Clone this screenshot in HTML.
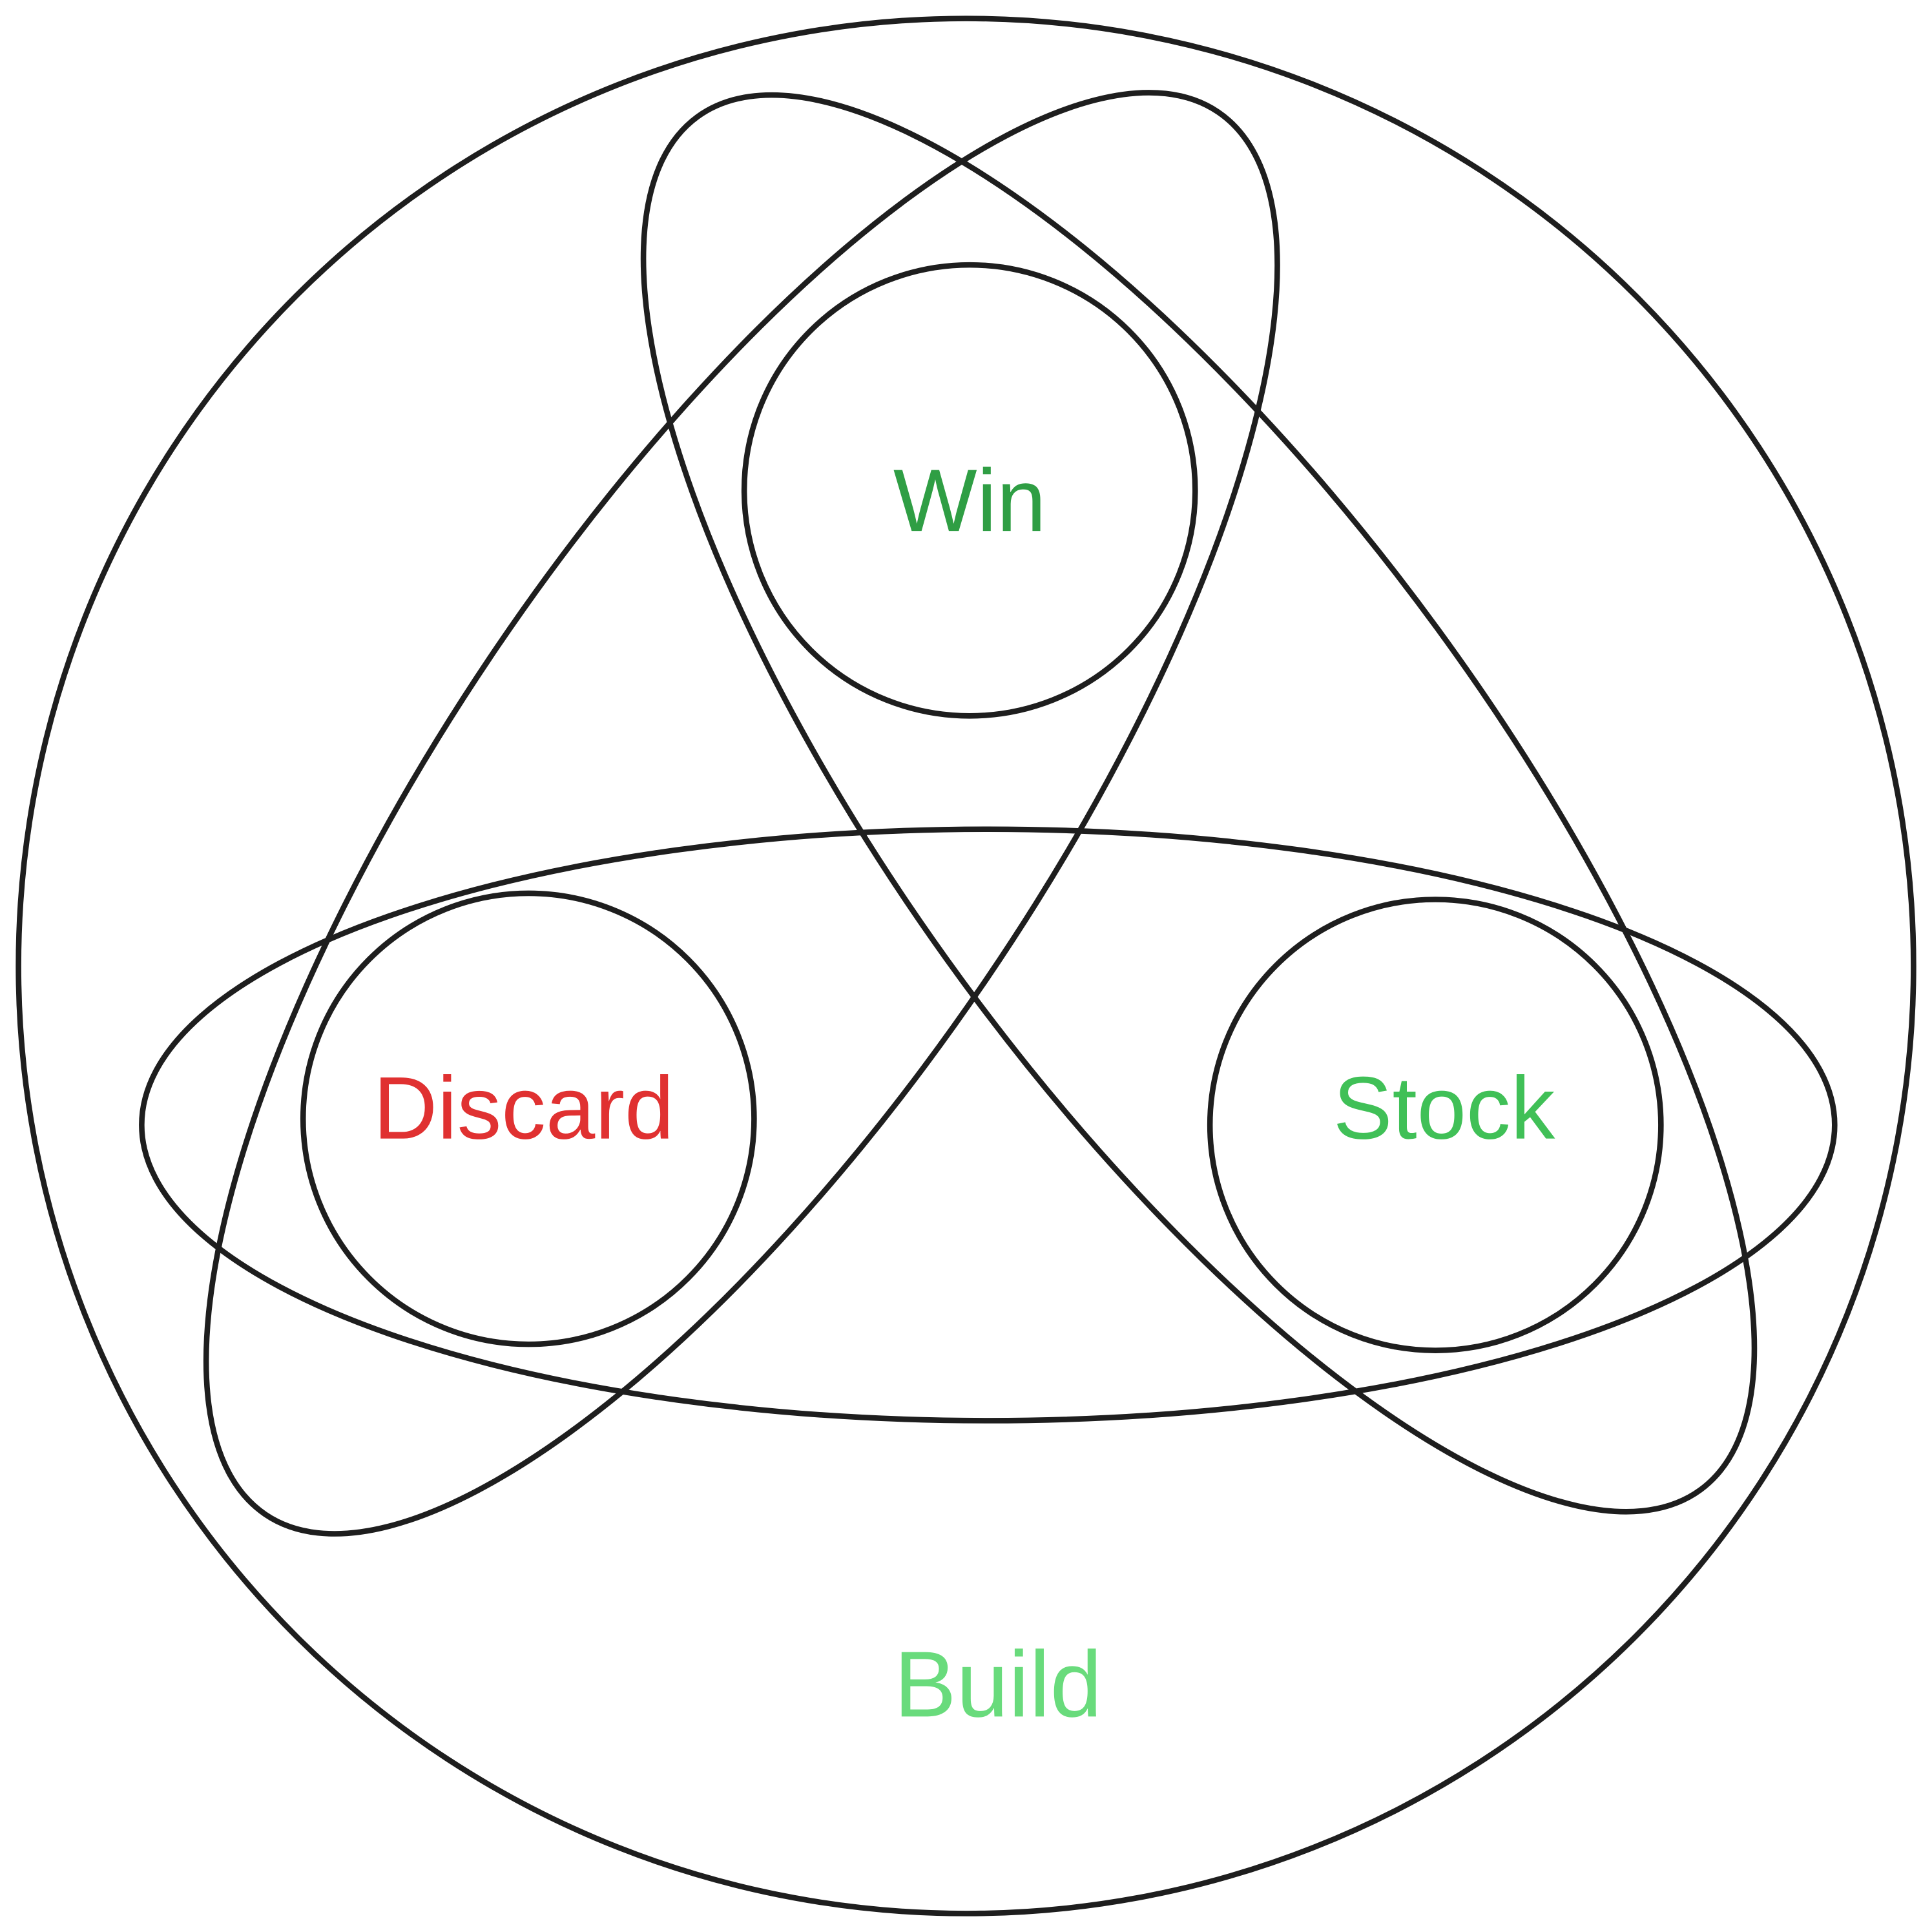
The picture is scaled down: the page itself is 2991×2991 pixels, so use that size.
<!DOCTYPE html>
<html><head><meta charset="utf-8"><style>
html,body{margin:0;padding:0;background:#fff;}
svg{display:block;}
text{font-family:"Liberation Sans",sans-serif;text-anchor:middle;dominant-baseline:middle;}
</style></head><body>
<svg width="2991" height="2991" viewBox="0 0 1568 1568" xmlns="http://www.w3.org/2000/svg">
<rect width="1568" height="1568" fill="#fff"/>
<g fill="none" stroke="#1e1e1e" stroke-width="4.5">
<circle cx="784" cy="784" r="769"/>
<circle cx="787" cy="398" r="183"/>
<circle cx="429" cy="908" r="183"/>
<circle cx="1165" cy="913" r="183"/>
<ellipse cx="802" cy="913" rx="687" ry="240"/>
<ellipse cx="973" cy="652" rx="690" ry="240" transform="rotate(53.85 973 652)"/>
<ellipse cx="602" cy="660" rx="688" ry="240" transform="rotate(-55.8 602 660)"/>
</g>
<text x="787" y="412" font-size="72" fill="#2f9e44">Win</text>
<text x="425" y="905" font-size="72" fill="#e03131">Discard</text>
<text x="1172" y="905" font-size="72" fill="#40c057">Stock</text>
<text x="810" y="1373" font-size="76" fill="#69db7c">Build</text>
</svg>
</body></html>
